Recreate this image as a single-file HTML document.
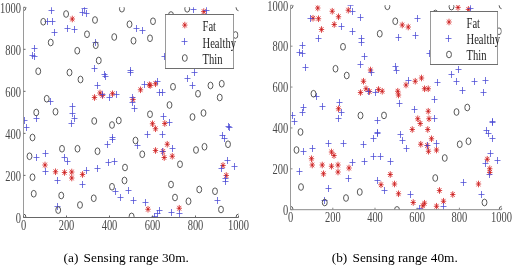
<!DOCTYPE html>
<html><head><meta charset="utf-8"><style>
html,body{margin:0;padding:0;background:#fff;}
body{width:512px;height:265px;overflow:hidden;}
svg{display:block;}
svg{will-change:transform;}
.t{font-family:"Liberation Serif",serif;fill:#484848;}
.lg{font-family:"Liberation Serif",serif;fill:#1e1e1e;}
.cap{font-family:"Liberation Serif",serif;fill:#000;font-size:13.3px;}
</style></head><body>
<svg width="512" height="265" viewBox="0 0 512 265">
<rect width="512" height="265" fill="#fff"/>
<clipPath id="cL"><rect x="23.5" y="7.3" width="215.0" height="210.1"/></clipPath>
<g clip-path="url(#cL)">
<path fill="none" stroke="#d82c2c" stroke-width="0.85" d="M69.60 19h5.40M72.3 15.70v6.60M70.36 16.62l3.89 4.75M70.36 21.38l3.89 -4.75M201.05 11.6h5.40M203.75 8.30v6.60M201.81 9.22l3.89 4.75M201.81 13.98l3.89 -4.75M91.80 97.5h5.40M94.5 94.20v6.60M92.56 95.12l3.89 4.75M92.56 99.88l3.89 -4.75M97.30 93h5.40M100 89.70v6.60M98.06 90.62l3.89 4.75M98.06 95.38l3.89 -4.75M99.80 95.5h5.40M102.5 92.20v6.60M100.56 93.12l3.89 4.75M100.56 97.88l3.89 -4.75M109.80 93.75h5.40M112.5 90.45v6.60M110.56 91.37l3.89 4.75M110.56 96.13l3.89 -4.75M137.80 89.8h5.40M140.5 86.50v6.60M138.56 87.42l3.89 4.75M138.56 92.18l3.89 -4.75M146.70 84.7h5.40M149.4 81.40v6.60M147.46 82.32l3.89 4.75M147.46 87.08l3.89 -4.75M147.50 85.5h5.40M150.2 82.20v6.60M148.26 83.12l3.89 4.75M148.26 87.88l3.89 -4.75M152.80 83.75h5.40M155.5 80.45v6.60M153.56 81.37l3.89 4.75M153.56 86.13l3.89 -4.75M130.30 99.5h5.40M133 96.20v6.60M131.06 97.12l3.89 4.75M131.06 101.88l3.89 -4.75M149.80 123.75h5.40M152.5 120.45v6.60M150.56 121.37l3.89 4.75M150.56 126.13l3.89 -4.75M152.80 128.75h5.40M155.5 125.45v6.60M153.56 126.37l3.89 4.75M153.56 131.13l3.89 -4.75M162.05 123.5h5.40M164.75 120.20v6.60M162.81 121.12l3.89 4.75M162.81 125.88l3.89 -4.75M42.30 165h5.40M45 161.70v6.60M43.06 162.62l3.89 4.75M43.06 167.38l3.89 -4.75M52.80 171.75h5.40M55.5 168.45v6.60M53.56 169.37l3.89 4.75M53.56 174.13l3.89 -4.75M61.80 172.5h5.40M64.5 169.20v6.60M62.56 170.12l3.89 4.75M62.56 174.88l3.89 -4.75M69.05 172h5.40M71.75 168.70v6.60M69.81 169.62l3.89 4.75M69.81 174.38l3.89 -4.75M69.05 178h5.40M71.75 174.70v6.60M69.81 175.62l3.89 4.75M69.81 180.38l3.89 -4.75M79.80 174.5h5.40M82.5 171.20v6.60M80.56 172.12l3.89 4.75M80.56 176.88l3.89 -4.75M152.80 150.5h5.40M155.5 147.20v6.60M153.56 148.12l3.89 4.75M153.56 152.88l3.89 -4.75M160.30 151.5h5.40M163 148.20v6.60M161.06 149.12l3.89 4.75M161.06 153.88l3.89 -4.75M164.55 144.25h5.40M167.25 140.95v6.60M165.31 141.87l3.89 4.75M165.31 146.63l3.89 -4.75M161.55 157.5h5.40M164.25 154.20v6.60M162.31 155.12l3.89 4.75M162.31 159.88l3.89 -4.75M169.55 156.25h5.40M172.25 152.95v6.60M170.31 153.87l3.89 4.75M170.31 158.63l3.89 -4.75M220.30 165.5h5.40M223 162.20v6.60M221.06 163.12l3.89 4.75M221.06 167.88l3.89 -4.75M223.55 175.5h5.40M226.25 172.20v6.60M224.31 173.12l3.89 4.75M224.31 177.88l3.89 -4.75M145.30 209.25h5.40M148 205.95v6.60M146.06 206.87l3.89 4.75M146.06 211.63l3.89 -4.75M176.55 208.25h5.40M179.25 204.95v6.60M177.31 205.87l3.89 4.75M177.31 210.63l3.89 -4.75"/>
<g fill="#b82020"><circle cx="72.3" cy="19" r="0.75"/><circle cx="203.75" cy="11.6" r="0.75"/><circle cx="94.5" cy="97.5" r="0.75"/><circle cx="100" cy="93" r="0.75"/><circle cx="102.5" cy="95.5" r="0.75"/><circle cx="112.5" cy="93.75" r="0.75"/><circle cx="140.5" cy="89.8" r="0.75"/><circle cx="149.4" cy="84.7" r="0.75"/><circle cx="150.2" cy="85.5" r="0.75"/><circle cx="155.5" cy="83.75" r="0.75"/><circle cx="133" cy="99.5" r="0.75"/><circle cx="152.5" cy="123.75" r="0.75"/><circle cx="155.5" cy="128.75" r="0.75"/><circle cx="164.75" cy="123.5" r="0.75"/><circle cx="45" cy="165" r="0.75"/><circle cx="55.5" cy="171.75" r="0.75"/><circle cx="64.5" cy="172.5" r="0.75"/><circle cx="71.75" cy="172" r="0.75"/><circle cx="71.75" cy="178" r="0.75"/><circle cx="82.5" cy="174.5" r="0.75"/><circle cx="155.5" cy="150.5" r="0.75"/><circle cx="163" cy="151.5" r="0.75"/><circle cx="167.25" cy="144.25" r="0.75"/><circle cx="164.25" cy="157.5" r="0.75"/><circle cx="172.25" cy="156.25" r="0.75"/><circle cx="223" cy="165.5" r="0.75"/><circle cx="226.25" cy="175.5" r="0.75"/><circle cx="148" cy="209.25" r="0.75"/><circle cx="179.25" cy="208.25" r="0.75"/></g>
<path fill="none" stroke="#4848d4" stroke-width="0.75" d="M48.50 10.5h6.00M51.5 7.00v7.00M44.50 21.5h6.00M47.5 18.00v7.00M49.50 21.5h6.00M52.5 18.00v7.00M51.50 32.5h6.00M54.5 29.00v7.00M64.50 28.5h6.00M67.5 25.00v7.00M71.50 29.5h6.00M74.5 26.00v7.00M79.50 12.5h6.00M82.5 9.00v7.00M81.50 8.5h6.00M84.5 5.00v7.00M83.50 13.5h6.00M86.5 10.00v7.00M92.50 42.5h6.00M95.5 39.00v7.00M31.50 48.5h6.00M34.5 45.00v7.00M29.50 55.5h6.00M32.5 52.00v7.00M31.50 56.5h6.00M34.5 53.00v7.00M133.50 28.5h6.00M136.5 25.00v7.00M139.50 30.5h6.00M142.5 27.00v7.00M190.50 9.5h6.00M193.5 6.00v7.00M203.50 10.5h6.00M206.5 7.00v7.00M161.50 56.5h6.00M164.5 53.00v7.00M91.50 68.5h6.00M94.5 65.00v7.00M101.50 74.5h6.00M104.5 71.00v7.00M102.50 76.5h6.00M105.5 73.00v7.00M127.50 70.5h6.00M130.5 67.00v7.00M127.50 72.5h6.00M130.5 69.00v7.00M94.50 85.5h6.00M97.5 82.00v7.00M99.50 94.5h6.00M102.5 91.00v7.00M106.50 97.5h6.00M109.5 94.00v7.00M113.50 94.5h6.00M116.5 91.00v7.00M47.50 101.5h6.00M50.5 98.00v7.00M33.50 118.5h6.00M36.5 115.00v7.00M69.50 106.5h6.00M72.5 103.00v7.00M69.50 113.5h6.00M72.5 110.00v7.00M71.50 118.5h6.00M74.5 115.00v7.00M68.50 123.5h6.00M71.5 120.00v7.00M21.50 120.5h6.00M24.5 117.00v7.00M141.50 84.5h6.00M144.5 81.00v7.00M154.50 81.5h6.00M157.5 78.00v7.00M156.50 92.5h6.00M159.5 89.00v7.00M159.50 92.5h6.00M162.5 89.00v7.00M184.50 78.5h6.00M187.5 75.00v7.00M191.50 72.5h6.00M194.5 69.00v7.00M189.50 85.5h6.00M192.5 82.00v7.00M129.50 97.5h6.00M132.5 94.00v7.00M129.50 102.5h6.00M132.5 99.00v7.00M131.50 108.5h6.00M134.5 105.00v7.00M160.50 116.5h6.00M163.5 113.00v7.00M166.50 122.5h6.00M169.5 119.00v7.00M225.50 126.5h6.00M228.5 123.00v7.00M226.50 127.5h6.00M229.5 124.00v7.00M23.50 127.5h6.00M26.5 124.00v7.00M33.50 157.5h6.00M36.5 154.00v7.00M42.50 153.5h6.00M45.5 150.00v7.00M42.50 171.5h6.00M45.5 168.00v7.00M54.50 180.5h6.00M57.5 177.00v7.00M61.50 157.5h6.00M64.5 154.00v7.00M64.50 161.5h6.00M67.5 158.00v7.00M83.50 170.5h6.00M86.5 167.00v7.00M79.50 184.5h6.00M82.5 181.00v7.00M94.50 168.5h6.00M97.5 165.00v7.00M109.50 137.5h6.00M112.5 134.00v7.00M109.50 139.5h6.00M112.5 136.00v7.00M104.50 144.5h6.00M107.5 141.00v7.00M105.50 162.5h6.00M108.5 159.00v7.00M111.50 161.5h6.00M114.5 158.00v7.00M144.50 134.5h6.00M147.5 131.00v7.00M159.50 134.5h6.00M162.5 131.00v7.00M134.50 145.5h6.00M137.5 142.00v7.00M159.50 151.5h6.00M162.5 148.00v7.00M169.50 148.5h6.00M172.5 145.00v7.00M219.50 135.5h6.00M222.5 132.00v7.00M221.50 138.5h6.00M224.5 135.00v7.00M224.50 160.5h6.00M227.5 157.00v7.00M218.50 168.5h6.00M221.5 165.00v7.00M231.50 166.5h6.00M234.5 163.00v7.00M222.50 178.5h6.00M225.5 175.00v7.00M222.50 181.5h6.00M225.5 178.00v7.00M54.50 206.5h6.00M57.5 203.00v7.00M112.50 191.5h6.00M115.5 188.00v7.00M117.50 197.5h6.00M120.5 194.00v7.00M125.50 190.5h6.00M128.5 187.00v7.00M130.50 200.5h6.00M133.5 197.00v7.00M142.50 202.5h6.00M145.5 199.00v7.00M151.50 216.5h6.00M154.5 213.00v7.00M154.50 213.5h6.00M157.5 210.00v7.00M156.50 210.5h6.00M159.5 207.00v7.00M168.50 212.5h6.00M171.5 209.00v7.00M176.50 213.5h6.00M179.5 210.00v7.00M214.50 200.5h6.00M217.5 197.00v7.00"/>
<g fill="none" stroke="#505050" stroke-width="0.95"><ellipse cx="43.25" cy="21.75" rx="2.45" ry="3.35"/><ellipse cx="66.1" cy="14" rx="2.45" ry="3.35"/><ellipse cx="95" cy="20" rx="2.45" ry="3.35"/><ellipse cx="87" cy="34.25" rx="2.45" ry="3.35"/><ellipse cx="50.75" cy="42.5" rx="2.45" ry="3.35"/><ellipse cx="77.25" cy="50.75" rx="2.45" ry="3.35"/><ellipse cx="95.75" cy="45.25" rx="2.45" ry="3.35"/><ellipse cx="98.75" cy="60.5" rx="2.45" ry="3.35"/><ellipse cx="114.25" cy="37" rx="2.45" ry="3.35"/><ellipse cx="121.9" cy="8.7" rx="2.45" ry="3.35"/><ellipse cx="129.5" cy="24.25" rx="2.45" ry="3.35"/><ellipse cx="153" cy="21.25" rx="2.45" ry="3.35"/><ellipse cx="133.5" cy="40.75" rx="2.45" ry="3.35"/><ellipse cx="150" cy="38.25" rx="2.45" ry="3.35"/><ellipse cx="187.2" cy="8.8" rx="2.45" ry="3.35"/><ellipse cx="171" cy="15" rx="2.45" ry="3.35"/><ellipse cx="235.5" cy="35" rx="2.45" ry="3.35"/><ellipse cx="38.25" cy="71.25" rx="2.45" ry="3.35"/><ellipse cx="69.5" cy="72.5" rx="2.45" ry="3.35"/><ellipse cx="80.5" cy="79.5" rx="2.45" ry="3.35"/><ellipse cx="46.75" cy="98.75" rx="2.45" ry="3.35"/><ellipse cx="36.25" cy="112.5" rx="2.45" ry="3.35"/><ellipse cx="55.5" cy="111.75" rx="2.45" ry="3.35"/><ellipse cx="94.25" cy="121" rx="2.45" ry="3.35"/><ellipse cx="112" cy="125" rx="2.45" ry="3.35"/><ellipse cx="118.75" cy="120.5" rx="2.45" ry="3.35"/><ellipse cx="173" cy="86.75" rx="2.45" ry="3.35"/><ellipse cx="198" cy="93.75" rx="2.45" ry="3.35"/><ellipse cx="210.5" cy="85.5" rx="2.45" ry="3.35"/><ellipse cx="221.75" cy="83.75" rx="2.45" ry="3.35"/><ellipse cx="219.75" cy="97.5" rx="2.45" ry="3.35"/><ellipse cx="169.5" cy="105" rx="2.45" ry="3.35"/><ellipse cx="150" cy="114.25" rx="2.45" ry="3.35"/><ellipse cx="192.5" cy="117" rx="2.45" ry="3.35"/><ellipse cx="203.5" cy="113" rx="2.45" ry="3.35"/><ellipse cx="32.5" cy="137.5" rx="2.45" ry="3.35"/><ellipse cx="29.5" cy="156.25" rx="2.45" ry="3.35"/><ellipse cx="62" cy="148.75" rx="2.45" ry="3.35"/><ellipse cx="77.5" cy="148.75" rx="2.45" ry="3.35"/><ellipse cx="97.5" cy="151.25" rx="2.45" ry="3.35"/><ellipse cx="32.5" cy="177.25" rx="2.45" ry="3.35"/><ellipse cx="125" cy="167.5" rx="2.45" ry="3.35"/><ellipse cx="124.5" cy="180.5" rx="2.45" ry="3.35"/><ellipse cx="135.5" cy="140.5" rx="2.45" ry="3.35"/><ellipse cx="142.25" cy="154.25" rx="2.45" ry="3.35"/><ellipse cx="180" cy="164.25" rx="2.45" ry="3.35"/><ellipse cx="196" cy="150" rx="2.45" ry="3.35"/><ellipse cx="204.5" cy="146.75" rx="2.45" ry="3.35"/><ellipse cx="228" cy="144.25" rx="2.45" ry="3.35"/><ellipse cx="171" cy="184.5" rx="2.45" ry="3.35"/><ellipse cx="33.75" cy="193.75" rx="2.45" ry="3.35"/><ellipse cx="61.25" cy="195.5" rx="2.45" ry="3.35"/><ellipse cx="58.2" cy="210.1" rx="2.45" ry="3.35"/><ellipse cx="80" cy="205" rx="2.45" ry="3.35"/><ellipse cx="93.75" cy="198.25" rx="2.45" ry="3.35"/><ellipse cx="112" cy="186.75" rx="2.45" ry="3.35"/><ellipse cx="131.6" cy="216.4" rx="2.45" ry="3.35"/><ellipse cx="175" cy="197.5" rx="2.45" ry="3.35"/><ellipse cx="188.5" cy="201.25" rx="2.45" ry="3.35"/><ellipse cx="199.25" cy="189.5" rx="2.45" ry="3.35"/><ellipse cx="215" cy="191.25" rx="2.45" ry="3.35"/><ellipse cx="221" cy="209.5" rx="2.45" ry="3.35"/><ellipse cx="23.5" cy="217.4" rx="2.45" ry="3.35"/><ellipse cx="23.5" cy="7.3" rx="2.45" ry="3.35"/><ellipse cx="238.5" cy="217.4" rx="2.45" ry="3.35"/><ellipse cx="238.5" cy="7.3" rx="2.45" ry="3.35"/></g>
</g>
<path fill="none" stroke="#9a9a9a" stroke-width="1" d="M23.5 7.3V217.5"/>
<path fill="none" stroke="#666" stroke-width="1" d="M23.5 217.5H238.5M23.5 217.40h2M23.50 217.5v-2M23.5 175.38h2M66.50 217.5v-2M23.5 133.36h2M109.50 217.5v-2M23.5 91.34h2M152.50 217.5v-2M23.5 49.32h2M195.50 217.5v-2M23.5 7.30h2M238.50 217.5v-2"/>
<text class="t" text-anchor="end" transform="translate(20.9,222.60) scale(0.69,1)" font-size="15.2">0</text>
<text class="t" text-anchor="middle" transform="translate(23.50,229.90) scale(0.69,1)" font-size="15.2">0</text>
<text class="t" text-anchor="end" transform="translate(20.9,180.58) scale(0.69,1)" font-size="15.2">200</text>
<text class="t" text-anchor="middle" transform="translate(66.50,229.90) scale(0.69,1)" font-size="15.2">200</text>
<text class="t" text-anchor="end" transform="translate(20.9,138.56) scale(0.69,1)" font-size="15.2">400</text>
<text class="t" text-anchor="middle" transform="translate(109.50,229.90) scale(0.69,1)" font-size="15.2">400</text>
<text class="t" text-anchor="end" transform="translate(20.9,96.54) scale(0.69,1)" font-size="15.2">600</text>
<text class="t" text-anchor="middle" transform="translate(152.50,229.90) scale(0.69,1)" font-size="15.2">600</text>
<text class="t" text-anchor="end" transform="translate(20.9,54.52) scale(0.69,1)" font-size="15.2">800</text>
<text class="t" text-anchor="middle" transform="translate(195.50,229.90) scale(0.69,1)" font-size="15.2">800</text>
<text class="t" text-anchor="end" transform="translate(20.9,12.50) scale(0.69,1)" font-size="15.2">1000</text>
<text class="t" text-anchor="middle" transform="translate(238.50,229.90) scale(0.69,1)" font-size="15.2">1000</text>
<rect x="165.5" y="14.5" width="68.0" height="54.0" fill="#fff"/>
<path fill="none" stroke="#9a9a9a" stroke-width="1" d="M165.5 14.5V68.5M233.5 14.5V68.5"/>
<path fill="none" stroke="#6e6e6e" stroke-width="1" d="M165.0 14.5H234.0M165.0 68.5H234.0"/>
<path fill="none" stroke="#d82c2c" stroke-width="0.85" d="M182.10 25.1h5.40M184.8 21.80v6.60M182.86 22.72l3.89 4.75M182.86 27.48l3.89 -4.75"/>
<circle fill="#b82020" cx="184.8" cy="25.1" r="0.75"/>
<path fill="none" stroke="#4848d4" stroke-width="0.75" d="M181.50 41.5h6.00M184.5 38.00v7.00"/>
<g fill="none" stroke="#505050" stroke-width="0.95"><ellipse cx="184.8" cy="58" rx="2.45" ry="3.35"/></g>
<text class="lg" transform="translate(202.5,31.20) scale(0.705,1)" font-size="15">Fat</text>
<text class="lg" transform="translate(202.5,47.60) scale(0.705,1)" font-size="15">Healthy</text>
<text class="lg" transform="translate(202.5,64.10) scale(0.705,1)" font-size="15">Thin</text>
<clipPath id="cR"><rect x="290.6" y="5.3" width="211.0" height="204.39999999999998"/></clipPath>
<g clip-path="url(#cR)">
<path fill="none" stroke="#d82c2c" stroke-width="0.85" d="M315.05 8h5.40M317.75 4.70v6.60M315.81 5.62l3.89 4.75M315.81 10.38l3.89 -4.75M310.30 18.25h5.40M313 14.95v6.60M311.06 15.87l3.89 4.75M311.06 20.63l3.89 -4.75M315.80 18.75h5.40M318.5 15.45v6.60M316.56 16.37l3.89 4.75M316.56 21.13l3.89 -4.75M318.80 29.5h5.40M321.5 26.20v6.60M319.56 27.12l3.89 4.75M319.56 31.88l3.89 -4.75M329.55 11.25h5.40M332.25 7.95v6.60M330.31 8.87l3.89 4.75M330.31 13.63l3.89 -4.75M335.80 16.75h5.40M338.5 13.45v6.60M336.56 14.37l3.89 4.75M336.56 19.13l3.89 -4.75M331.55 24.5h5.40M334.25 21.20v6.60M332.31 22.12l3.89 4.75M332.31 26.88l3.89 -4.75M345.60 10.2h5.40M348.3 6.90v6.60M346.36 7.82l3.89 4.75M346.36 12.58l3.89 -4.75M455.30 7.4h5.40M458 4.10v6.60M456.06 5.02l3.89 4.75M456.06 9.78l3.89 -4.75M465.70 9.4h5.40M468.4 6.10v6.60M466.46 7.02l3.89 4.75M466.46 11.78l3.89 -4.75M399.55 25h5.40M402.25 21.70v6.60M400.31 22.62l3.89 4.75M400.31 27.38l3.89 -4.75M405.55 27h5.40M408.25 23.70v6.60M406.31 24.62l3.89 4.75M406.31 29.38l3.89 -4.75M367.80 70h5.40M370.5 66.70v6.60M368.56 67.62l3.89 4.75M368.56 72.38l3.89 -4.75M360.80 81.25h5.40M363.5 77.95v6.60M361.56 78.87l3.89 4.75M361.56 83.63l3.89 -4.75M357.80 92.5h5.40M360.5 89.20v6.60M358.56 90.12l3.89 4.75M358.56 94.88l3.89 -4.75M363.30 88.75h5.40M366 85.45v6.60M364.06 86.37l3.89 4.75M364.06 91.13l3.89 -4.75M366.80 91.5h5.40M369.5 88.20v6.60M367.56 89.12l3.89 4.75M367.56 93.88l3.89 -4.75M375.80 89.5h5.40M378.5 86.20v6.60M376.56 87.12l3.89 4.75M376.56 91.88l3.89 -4.75M379.55 91.25h5.40M382.25 87.95v6.60M380.31 88.87l3.89 4.75M380.31 93.63l3.89 -4.75M335.80 108.75h5.40M338.5 105.45v6.60M336.56 106.37l3.89 4.75M336.56 111.13l3.89 -4.75M403.30 85h5.40M406 81.70v6.60M404.06 82.62l3.89 4.75M404.06 87.38l3.89 -4.75M412.55 81.25h5.40M415.25 77.95v6.60M413.31 78.87l3.89 4.75M413.31 83.63l3.89 -4.75M418.80 78h5.40M421.5 74.70v6.60M419.56 75.62l3.89 4.75M419.56 80.38l3.89 -4.75M421.80 88.75h5.40M424.5 85.45v6.60M422.56 86.37l3.89 4.75M422.56 91.13l3.89 -4.75M425.55 88.75h5.40M428.25 85.45v6.60M426.31 86.37l3.89 4.75M426.31 91.13l3.89 -4.75M395.05 91.25h5.40M397.75 87.95v6.60M395.81 88.87l3.89 4.75M395.81 93.63l3.89 -4.75M395.80 95h5.40M398.5 91.70v6.60M396.56 92.62l3.89 4.75M396.56 97.38l3.89 -4.75M425.55 111.25h5.40M428.25 107.95v6.60M426.31 108.87l3.89 4.75M426.31 113.63l3.89 -4.75M415.05 118.75h5.40M417.75 115.45v6.60M415.81 116.37l3.89 4.75M415.81 121.13l3.89 -4.75M426.30 118.75h5.40M429 115.45v6.60M427.06 116.37l3.89 4.75M427.06 121.13l3.89 -4.75M417.55 123.5h5.40M420.25 120.20v6.60M418.31 121.12l3.89 4.75M418.31 125.88l3.89 -4.75M308.80 158.75h5.40M311.5 155.45v6.60M309.56 156.37l3.89 4.75M309.56 161.13l3.89 -4.75M309.55 165h5.40M312.25 161.70v6.60M310.31 162.62l3.89 4.75M310.31 167.38l3.89 -4.75M319.55 165h5.40M322.25 161.70v6.60M320.31 162.62l3.89 4.75M320.31 167.38l3.89 -4.75M320.80 173.75h5.40M323.5 170.45v6.60M321.56 171.37l3.89 4.75M321.56 176.13l3.89 -4.75M328.80 152h5.40M331.5 148.70v6.60M329.56 149.62l3.89 4.75M329.56 154.38l3.89 -4.75M331.30 155.5h5.40M334 152.20v6.60M332.06 153.12l3.89 4.75M332.06 157.88l3.89 -4.75M328.80 166.25h5.40M331.5 162.95v6.60M329.56 163.87l3.89 4.75M329.56 168.63l3.89 -4.75M335.30 165h5.40M338 161.70v6.60M336.06 162.62l3.89 4.75M336.06 167.38l3.89 -4.75M335.30 172h5.40M338 168.70v6.60M336.06 169.62l3.89 4.75M336.06 174.38l3.89 -4.75M346.30 168h5.40M349 164.70v6.60M347.06 165.62l3.89 4.75M347.06 170.38l3.89 -4.75M378.30 184.75h5.40M381 181.45v6.60M379.06 182.37l3.89 4.75M379.06 187.13l3.89 -4.75M409.55 129.5h5.40M412.25 126.20v6.60M410.31 127.12l3.89 4.75M410.31 131.88l3.89 -4.75M425.05 129.5h5.40M427.75 126.20v6.60M425.81 127.12l3.89 4.75M425.81 131.88l3.89 -4.75M428.80 138.75h5.40M431.5 135.45v6.60M429.56 136.37l3.89 4.75M429.56 141.13l3.89 -4.75M418.05 144.25h5.40M420.75 140.95v6.60M418.81 141.87l3.89 4.75M418.81 146.63l3.89 -4.75M424.55 145.5h5.40M427.25 142.20v6.60M425.31 143.12l3.89 4.75M425.31 147.88l3.89 -4.75M425.80 151.25h5.40M428.5 147.95v6.60M426.56 148.87l3.89 4.75M426.56 153.63l3.89 -4.75M433.80 150h5.40M436.5 146.70v6.60M434.56 147.62l3.89 4.75M434.56 152.38l3.89 -4.75M387.55 174.5h5.40M390.25 171.20v6.60M388.31 172.12l3.89 4.75M388.31 176.88l3.89 -4.75M391.80 184h5.40M394.5 180.70v6.60M392.56 181.62l3.89 4.75M392.56 186.38l3.89 -4.75M475.80 184h5.40M478.5 180.70v6.60M476.56 181.62l3.89 4.75M476.56 186.38l3.89 -4.75M484.55 159.25h5.40M487.25 155.95v6.60M485.31 156.87l3.89 4.75M485.31 161.63l3.89 -4.75M487.05 168.75h5.40M489.75 165.45v6.60M487.81 166.37l3.89 4.75M487.81 171.13l3.89 -4.75M487.05 172.5h5.40M489.75 169.20v6.60M487.81 170.12l3.89 4.75M487.81 174.88l3.89 -4.75M395.80 193.75h5.40M398.5 190.45v6.60M396.56 191.37l3.89 4.75M396.56 196.13l3.89 -4.75M410.55 202.5h5.40M413.25 199.20v6.60M411.31 200.12l3.89 4.75M411.31 204.88l3.89 -4.75M420.05 205.75h5.40M422.75 202.45v6.60M420.81 203.37l3.89 4.75M420.81 208.13l3.89 -4.75M421.80 203.25h5.40M424.5 199.95v6.60M422.56 200.87l3.89 4.75M422.56 205.63l3.89 -4.75M436.80 190.5h5.40M439.5 187.20v6.60M437.56 188.12l3.89 4.75M437.56 192.88l3.89 -4.75M433.80 206.25h5.40M436.5 202.95v6.60M434.56 203.87l3.89 4.75M434.56 208.63l3.89 -4.75M440.80 201.25h5.40M443.5 197.95v6.60M441.56 198.87l3.89 4.75M441.56 203.63l3.89 -4.75M450.05 194.5h5.40M452.75 191.20v6.60M450.81 192.12l3.89 4.75M450.81 196.88l3.89 -4.75"/>
<g fill="#b82020"><circle cx="317.75" cy="8" r="0.75"/><circle cx="313" cy="18.25" r="0.75"/><circle cx="318.5" cy="18.75" r="0.75"/><circle cx="321.5" cy="29.5" r="0.75"/><circle cx="332.25" cy="11.25" r="0.75"/><circle cx="338.5" cy="16.75" r="0.75"/><circle cx="334.25" cy="24.5" r="0.75"/><circle cx="348.3" cy="10.2" r="0.75"/><circle cx="458" cy="7.4" r="0.75"/><circle cx="468.4" cy="9.4" r="0.75"/><circle cx="402.25" cy="25" r="0.75"/><circle cx="408.25" cy="27" r="0.75"/><circle cx="370.5" cy="70" r="0.75"/><circle cx="363.5" cy="81.25" r="0.75"/><circle cx="360.5" cy="92.5" r="0.75"/><circle cx="366" cy="88.75" r="0.75"/><circle cx="369.5" cy="91.5" r="0.75"/><circle cx="378.5" cy="89.5" r="0.75"/><circle cx="382.25" cy="91.25" r="0.75"/><circle cx="338.5" cy="108.75" r="0.75"/><circle cx="406" cy="85" r="0.75"/><circle cx="415.25" cy="81.25" r="0.75"/><circle cx="421.5" cy="78" r="0.75"/><circle cx="424.5" cy="88.75" r="0.75"/><circle cx="428.25" cy="88.75" r="0.75"/><circle cx="397.75" cy="91.25" r="0.75"/><circle cx="398.5" cy="95" r="0.75"/><circle cx="428.25" cy="111.25" r="0.75"/><circle cx="417.75" cy="118.75" r="0.75"/><circle cx="429" cy="118.75" r="0.75"/><circle cx="420.25" cy="123.5" r="0.75"/><circle cx="311.5" cy="158.75" r="0.75"/><circle cx="312.25" cy="165" r="0.75"/><circle cx="322.25" cy="165" r="0.75"/><circle cx="323.5" cy="173.75" r="0.75"/><circle cx="331.5" cy="152" r="0.75"/><circle cx="334" cy="155.5" r="0.75"/><circle cx="331.5" cy="166.25" r="0.75"/><circle cx="338" cy="165" r="0.75"/><circle cx="338" cy="172" r="0.75"/><circle cx="349" cy="168" r="0.75"/><circle cx="381" cy="184.75" r="0.75"/><circle cx="412.25" cy="129.5" r="0.75"/><circle cx="427.75" cy="129.5" r="0.75"/><circle cx="431.5" cy="138.75" r="0.75"/><circle cx="420.75" cy="144.25" r="0.75"/><circle cx="427.25" cy="145.5" r="0.75"/><circle cx="428.5" cy="151.25" r="0.75"/><circle cx="436.5" cy="150" r="0.75"/><circle cx="390.25" cy="174.5" r="0.75"/><circle cx="394.5" cy="184" r="0.75"/><circle cx="478.5" cy="184" r="0.75"/><circle cx="487.25" cy="159.25" r="0.75"/><circle cx="489.75" cy="168.75" r="0.75"/><circle cx="489.75" cy="172.5" r="0.75"/><circle cx="398.5" cy="193.75" r="0.75"/><circle cx="413.25" cy="202.5" r="0.75"/><circle cx="422.75" cy="205.75" r="0.75"/><circle cx="424.5" cy="203.25" r="0.75"/><circle cx="439.5" cy="190.5" r="0.75"/><circle cx="436.5" cy="206.25" r="0.75"/><circle cx="443.5" cy="201.25" r="0.75"/><circle cx="452.75" cy="194.5" r="0.75"/></g>
<path fill="none" stroke="#4848d4" stroke-width="0.75" d="M307.50 18.5h6.00M310.5 15.00v7.00M315.50 38.5h6.00M318.5 35.00v7.00M338.50 26.5h6.00M341.5 23.00v7.00M347.50 5.5h6.00M350.5 2.00v7.00M349.50 11.5h6.00M352.5 8.00v7.00M357.50 17.5h6.00M360.5 14.00v7.00M349.50 31.5h6.00M352.5 28.00v7.00M358.50 38.5h6.00M361.5 35.00v7.00M358.50 42.5h6.00M361.5 39.00v7.00M299.50 45.5h6.00M302.5 42.00v7.00M296.50 52.5h6.00M299.5 49.00v7.00M299.50 53.5h6.00M302.5 50.00v7.00M361.50 56.5h6.00M364.5 53.00v7.00M302.50 67.5h6.00M305.5 64.00v7.00M357.50 64.5h6.00M360.5 61.00v7.00M467.50 8.5h6.00M470.5 5.00v7.00M414.50 18.5h6.00M417.5 15.00v7.00M412.50 35.5h6.00M415.5 32.00v7.00M395.50 37.5h6.00M398.5 34.00v7.00M426.50 53.5h6.00M429.5 50.00v7.00M392.50 66.5h6.00M395.5 63.00v7.00M393.50 70.5h6.00M396.5 67.00v7.00M368.50 72.5h6.00M371.5 69.00v7.00M365.50 91.5h6.00M368.5 88.00v7.00M372.50 92.5h6.00M375.5 89.00v7.00M313.50 96.5h6.00M316.5 93.00v7.00M319.50 106.5h6.00M322.5 103.00v7.00M300.50 107.5h6.00M303.5 104.00v7.00M299.50 112.5h6.00M302.5 109.00v7.00M289.50 115.5h6.00M292.5 112.00v7.00M291.50 121.5h6.00M294.5 118.00v7.00M336.50 102.5h6.00M339.5 99.00v7.00M338.50 112.5h6.00M341.5 109.00v7.00M335.50 118.5h6.00M338.5 115.00v7.00M374.50 120.5h6.00M377.5 117.00v7.00M405.50 80.5h6.00M408.5 77.00v7.00M434.50 82.5h6.00M437.5 79.00v7.00M396.50 103.5h6.00M399.5 100.00v7.00M431.50 99.5h6.00M434.5 96.00v7.00M411.50 109.5h6.00M414.5 106.00v7.00M431.50 118.5h6.00M434.5 115.00v7.00M448.50 74.5h6.00M451.5 71.00v7.00M455.50 69.5h6.00M458.5 66.00v7.00M453.50 81.5h6.00M456.5 78.00v7.00M459.50 90.5h6.00M462.5 87.00v7.00M471.50 81.5h6.00M474.5 78.00v7.00M482.50 80.5h6.00M485.5 77.00v7.00M480.50 92.5h6.00M483.5 89.00v7.00M489.50 121.5h6.00M492.5 118.00v7.00M489.50 122.5h6.00M492.5 119.00v7.00M300.50 151.5h6.00M303.5 148.00v7.00M309.50 148.5h6.00M312.5 145.00v7.00M325.50 143.5h6.00M328.5 140.00v7.00M340.50 143.5h6.00M343.5 140.00v7.00M349.50 162.5h6.00M352.5 159.00v7.00M345.50 178.5h6.00M348.5 175.00v7.00M360.50 144.5h6.00M363.5 141.00v7.00M361.50 161.5h6.00M364.5 158.00v7.00M370.50 138.5h6.00M373.5 135.00v7.00M374.50 132.5h6.00M377.5 129.00v7.00M374.50 133.5h6.00M377.5 130.00v7.00M370.50 156.5h6.00M373.5 153.00v7.00M377.50 156.5h6.00M380.5 153.00v7.00M296.50 171.5h6.00M299.5 168.00v7.00M374.50 180.5h6.00M377.5 177.00v7.00M397.50 134.5h6.00M400.5 131.00v7.00M399.50 140.5h6.00M402.5 137.00v7.00M403.50 148.5h6.00M406.5 145.00v7.00M424.50 145.5h6.00M427.5 142.00v7.00M433.50 143.5h6.00M436.5 140.00v7.00M387.50 161.5h6.00M390.5 158.00v7.00M460.50 182.5h6.00M463.5 179.00v7.00M483.50 130.5h6.00M486.5 127.00v7.00M485.50 133.5h6.00M488.5 130.00v7.00M489.50 138.5h6.00M492.5 135.00v7.00M487.50 153.5h6.00M490.5 150.00v7.00M494.50 160.5h6.00M497.5 157.00v7.00M482.50 163.5h6.00M485.5 160.00v7.00M486.50 174.5h6.00M489.5 171.00v7.00M325.50 188.5h6.00M328.5 185.00v7.00M321.50 200.5h6.00M324.5 197.00v7.00M381.50 190.5h6.00M384.5 187.00v7.00M407.50 194.5h6.00M410.5 191.00v7.00M416.50 208.5h6.00M419.5 205.00v7.00M440.50 206.5h6.00M443.5 203.00v7.00M478.50 194.5h6.00M481.5 191.00v7.00"/>
<g fill="none" stroke="#505050" stroke-width="0.95"><ellipse cx="379.75" cy="33.75" rx="2.45" ry="3.35"/><ellipse cx="343" cy="46.75" rx="2.45" ry="3.35"/><ellipse cx="335.5" cy="68.75" rx="2.45" ry="3.35"/><ellipse cx="346.75" cy="75.5" rx="2.45" ry="3.35"/><ellipse cx="313.5" cy="93.75" rx="2.45" ry="3.35"/><ellipse cx="360.5" cy="115.5" rx="2.45" ry="3.35"/><ellipse cx="384" cy="115.4" rx="2.45" ry="3.35"/><ellipse cx="387.4" cy="6.3" rx="2.45" ry="3.35"/><ellipse cx="451.5" cy="6.6" rx="2.45" ry="3.35"/><ellipse cx="395.25" cy="21.25" rx="2.45" ry="3.35"/><ellipse cx="499" cy="31.25" rx="2.45" ry="3.35"/><ellipse cx="435.4" cy="13.5" rx="2.45" ry="3.35"/><ellipse cx="456.5" cy="112" rx="2.45" ry="3.35"/><ellipse cx="467.25" cy="107.5" rx="2.45" ry="3.35"/><ellipse cx="300.5" cy="132" rx="2.45" ry="3.35"/><ellipse cx="296.5" cy="150" rx="2.45" ry="3.35"/><ellipse cx="444.75" cy="158" rx="2.45" ry="3.35"/><ellipse cx="459.75" cy="144.25" rx="2.45" ry="3.35"/><ellipse cx="468.5" cy="141.25" rx="2.45" ry="3.35"/><ellipse cx="435.25" cy="178" rx="2.45" ry="3.35"/><ellipse cx="301" cy="187" rx="2.45" ry="3.35"/><ellipse cx="346" cy="198" rx="2.45" ry="3.35"/><ellipse cx="359.75" cy="192" rx="2.45" ry="3.35"/><ellipse cx="324.75" cy="202.5" rx="2.45" ry="3.35"/><ellipse cx="397" cy="209.9" rx="2.45" ry="3.35"/><ellipse cx="484.5" cy="202.5" rx="2.45" ry="3.35"/><ellipse cx="290.6" cy="209.7" rx="2.45" ry="3.35"/><ellipse cx="290.6" cy="5.3" rx="2.45" ry="3.35"/><ellipse cx="501.6" cy="209.7" rx="2.45" ry="3.35"/><ellipse cx="501.6" cy="5.3" rx="2.45" ry="3.35"/></g>
</g>
<path fill="none" stroke="#9a9a9a" stroke-width="1" d="M290.5 5.3V209.7"/>
<path fill="none" stroke="#8a8a8a" stroke-width="1" d="M290.5 209.7H501.6M290.5 209.70h2M290.60 209.7v-2M290.5 168.82h2M332.80 209.7v-2M290.5 127.94h2M375.00 209.7v-2M290.5 87.06h2M417.20 209.7v-2M290.5 46.18h2M459.40 209.7v-2M290.5 5.30h2M501.60 209.7v-2"/>
<text class="t" text-anchor="end" transform="translate(288.2,214.90) scale(0.69,1)" font-size="15.2">0</text>
<text class="t" text-anchor="middle" transform="translate(290.60,222.20) scale(0.69,1)" font-size="15.2">0</text>
<text class="t" text-anchor="end" transform="translate(288.2,174.02) scale(0.69,1)" font-size="15.2">200</text>
<text class="t" text-anchor="middle" transform="translate(332.80,222.20) scale(0.69,1)" font-size="15.2">200</text>
<text class="t" text-anchor="end" transform="translate(288.2,133.14) scale(0.69,1)" font-size="15.2">400</text>
<text class="t" text-anchor="middle" transform="translate(375.00,222.20) scale(0.69,1)" font-size="15.2">400</text>
<text class="t" text-anchor="end" transform="translate(288.2,92.26) scale(0.69,1)" font-size="15.2">600</text>
<text class="t" text-anchor="middle" transform="translate(417.20,222.20) scale(0.69,1)" font-size="15.2">600</text>
<text class="t" text-anchor="end" transform="translate(288.2,51.38) scale(0.69,1)" font-size="15.2">800</text>
<text class="t" text-anchor="middle" transform="translate(459.40,222.20) scale(0.69,1)" font-size="15.2">800</text>
<text class="t" text-anchor="end" transform="translate(288.2,10.50) scale(0.69,1)" font-size="15.2">1000</text>
<text class="t" text-anchor="middle" transform="translate(501.60,222.20) scale(0.69,1)" font-size="15.2">1000</text>
<rect x="430.5" y="11.5" width="67.0" height="53.0" fill="#fff"/>
<path fill="none" stroke="#9a9a9a" stroke-width="1" d="M430.5 11.5V64.5M497.5 11.5V64.5"/>
<path fill="none" stroke="#6e6e6e" stroke-width="1" d="M430.0 11.5H498.0M430.0 64.5H498.0"/>
<path fill="none" stroke="#d82c2c" stroke-width="0.85" d="M446.30 22h5.40M449 18.70v6.60M447.06 19.62l3.89 4.75M447.06 24.38l3.89 -4.75"/>
<circle fill="#b82020" cx="449" cy="22" r="0.75"/>
<path fill="none" stroke="#4848d4" stroke-width="0.75" d="M445.50 38.5h6.00M448.5 35.00v7.00"/>
<g fill="none" stroke="#505050" stroke-width="0.95"><ellipse cx="449" cy="54.5" rx="2.45" ry="3.35"/></g>
<text class="lg" transform="translate(466.5,27.70) scale(0.705,1)" font-size="15">Fat</text>
<text class="lg" transform="translate(466.5,43.70) scale(0.705,1)" font-size="15">Healthy</text>
<text class="lg" transform="translate(466.5,60.20) scale(0.705,1)" font-size="15">Thin</text>
<text class="cap" transform="translate(63.6,262.1) scale(1,1)">(a)</text>
<text class="cap" transform="translate(83.6,262.1) scale(1,1)">Sensing range 30m.</text>
<text class="cap" transform="translate(331.7,262.1) scale(1,1)">(b)</text>
<text class="cap" transform="translate(352.5,262.1) scale(1,1)">Sensing range 40m.</text>
</svg>
</body></html>
